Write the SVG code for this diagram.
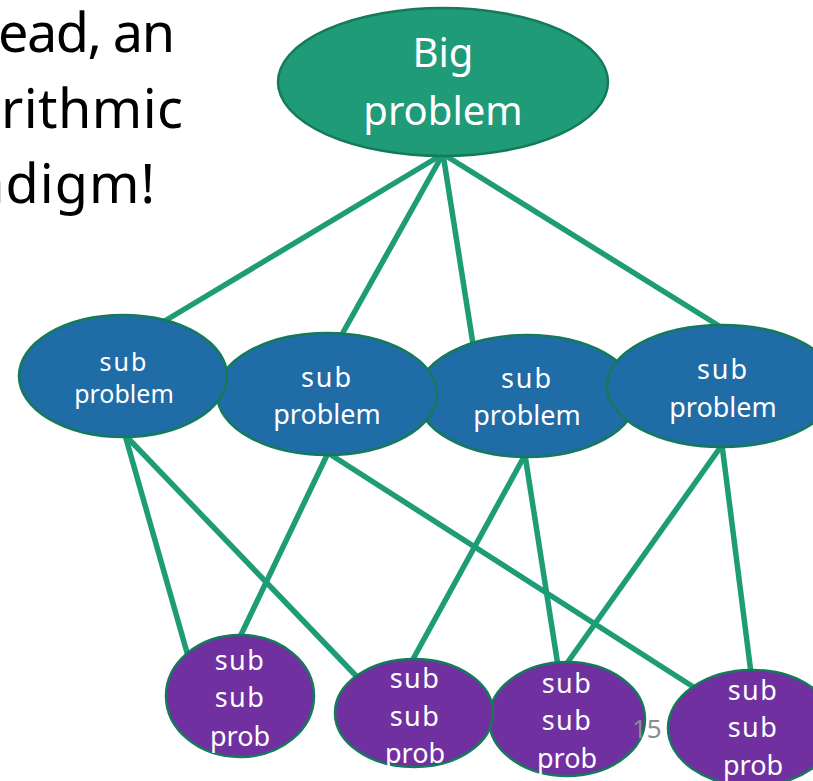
<svg xmlns="http://www.w3.org/2000/svg" width="813" height="781" viewBox="0 0 813 781">
  <style>
    .lead { font-family: "Noto Sans", "Open Sans", sans-serif; font-size: 54px; fill: #000000; }
    .edge { stroke: #1e9c76; stroke-width: 5.5; stroke-linecap: butt; fill: none; }
    .root { fill: #1f9b77; stroke: #157a5a; stroke-width: 2.5; }
    .mid { fill: #1f6ca7; stroke: #157a5a; stroke-width: 2.5; }
    .leaf { fill: #7030a0; stroke: #157a5a; stroke-width: 2.5; }
    .lbl { font-family: "Noto Sans", "Open Sans", sans-serif; fill: #ffffff; text-anchor: middle; }
    .page { font-family: "Noto Sans", "Open Sans", sans-serif; font-size: 26px; fill: #8c8c8c; }
  </style>
  <rect width="813" height="781" fill="#ffffff"/>

  <!-- slide body text, running off the left edge -->
  <g id="body-text">
    <text class="lead" x="-2" y="52" textLength="177" lengthAdjust="spacing">ead, an</text>
    <text class="lead" x="1" y="128" textLength="182" lengthAdjust="spacing">rithmic</text>
    <text class="lead" x="156" y="203" text-anchor="end" letter-spacing="1">adigm!</text>
  </g>

  <!-- connectors -->
  <g id="connectors">
    <line class="edge" x1="443" y1="154" x2="163" y2="322"/>
    <line class="edge" x1="443" y1="154" x2="336" y2="345"/>
    <line class="edge" x1="443" y1="154" x2="473" y2="344"/>
    <line class="edge" x1="443" y1="154" x2="724" y2="329"/>

    <line class="edge" x1="125" y1="435" x2="188" y2="656"/>
    <line class="edge" x1="125" y1="435" x2="360" y2="680"/>
    <line class="edge" x1="328" y1="453" x2="239" y2="639"/>
    <line class="edge" x1="328" y1="453" x2="695" y2="688"/>
    <line class="edge" x1="525" y1="455" x2="412" y2="661"/>
    <line class="edge" x1="525" y1="455" x2="558" y2="666"/>
    <line class="edge" x1="722" y1="445" x2="565" y2="666"/>
    <line class="edge" x1="722" y1="445" x2="751" y2="673"/>
  </g>

  <g id="big-problem">
    <ellipse class="root" cx="443" cy="82" rx="165" ry="74"/>
    <text class="lbl" x="443" y="67" font-size="40">Big</text>
    <text class="lbl" x="443" y="125" font-size="40">problem</text>
  </g>

  <g id="sub-3">
    <ellipse class="mid" cx="527" cy="396" rx="110" ry="61"/>
    <text class="lbl" x="527" y="388" font-size="27" letter-spacing="2">sub</text>
    <text class="lbl" x="527" y="425" font-size="27">problem</text>
  </g>
  <g id="sub-4">
    <ellipse class="mid" cx="722" cy="386" rx="115" ry="61"/>
    <text class="lbl" x="723" y="379" font-size="27" letter-spacing="2">sub</text>
    <text class="lbl" x="723" y="417" font-size="27">problem</text>
  </g>
  <g id="sub-2">
    <ellipse class="mid" cx="327" cy="394" rx="110" ry="61"/>
    <text class="lbl" x="327" y="387" font-size="27" letter-spacing="2">sub</text>
    <text class="lbl" x="327" y="424" font-size="27">problem</text>
  </g>
  <g id="sub-1">
    <ellipse class="mid" cx="123" cy="376" rx="104" ry="61"/>
    <text class="lbl" x="124" y="371" font-size="25" letter-spacing="2">sub</text>
    <text class="lbl" x="124" y="403" font-size="25">problem</text>
  </g>

  <g id="leaf-a">
    <ellipse class="leaf" cx="240" cy="696" rx="74" ry="61"/>
    <text class="lbl" x="240" y="670" font-size="27" letter-spacing="1.5">sub</text>
    <text class="lbl" x="240" y="707" font-size="27" letter-spacing="1.5">sub</text>
    <text class="lbl" x="240" y="746" font-size="27">prob</text>
  </g>
  <g id="leaf-c">
    <ellipse class="leaf" cx="567" cy="719" rx="78" ry="57"/>
    <text class="lbl" x="567" y="693" font-size="27" letter-spacing="1.5">sub</text>
    <text class="lbl" x="567" y="730" font-size="27" letter-spacing="1.5">sub</text>
    <text class="lbl" x="567" y="768" font-size="27">prob</text>
  </g>
  <g id="leaf-b">
    <ellipse class="leaf" cx="414" cy="713" rx="79" ry="54"/>
    <text class="lbl" x="415" y="688" font-size="27" letter-spacing="1.5">sub</text>
    <text class="lbl" x="415" y="726" font-size="27" letter-spacing="1.5">sub</text>
    <text class="lbl" x="415" y="763" font-size="27">prob</text>
  </g>
  <g id="leaf-d">
    <ellipse class="leaf" cx="752" cy="728" rx="84" ry="58"/>
    <text class="lbl" x="753" y="700" font-size="27" letter-spacing="1.5">sub</text>
    <text class="lbl" x="753" y="737" font-size="27" letter-spacing="1.5">sub</text>
    <text class="lbl" x="753" y="775" font-size="27">prob</text>
  </g>

  <text class="page" x="632" y="738">15</text>
</svg>
